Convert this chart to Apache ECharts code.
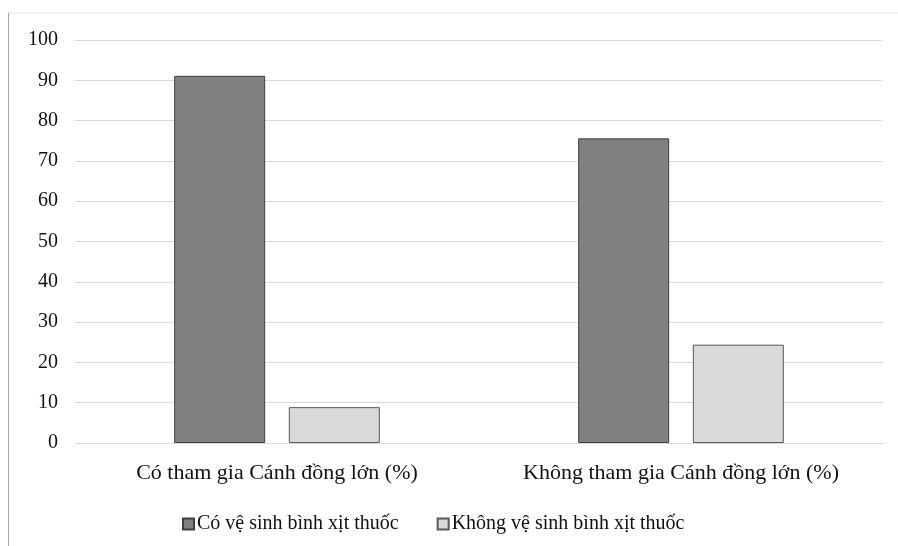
<!DOCTYPE html>
<html>
<head>
<meta charset="utf-8">
<script src="https://cdn.jsdelivr.net/npm/echarts@6/dist/echarts.min.js"></script>
<style>
  html, body { margin: 0; padding: 0; background: #fff; }
  #chart { width: 898px; height: 546px; }
</style>
</head>
<body>
<div id="chart"></div>
<script>
var categories = ["Có tham gia Cánh đồng lớn (%)", "Không tham gia Cánh đồng lớn (%)"];
var seriesNames = ["Có vệ sinh bình xịt thuốc", "Không vệ sinh bình xịt thuốc"];
var coVeSinh = [91.1, 75.6];
var khongVeSinh = [8.9, 24.4];

var font = "Liberation Serif";
var myChart = echarts.init(document.getElementById("chart"));

var option = {
  animation: false,
  graphic: [
    { type: "line", shape: { x1: 8, y1: 13, x2: 898, y2: 13 }, style: { stroke: "#e4e4e4", lineWidth: 1 } },
    { type: "line", shape: { x1: 8.5, y1: 13, x2: 8.5, y2: 546 }, style: { stroke: "#a6a6a6", lineWidth: 1 } }
  ],
  legend: {
    top: 509,
    left: 177,
    itemWidth: 11,
    itemHeight: 11,
    itemGap: 38,
    icon: "rect",
    textStyle: { fontFamily: font, fontSize: 20, color: "#111", padding: [0, 0, 0, -2] },
    data: seriesNames
  },
  grid: { left: 75, right: 15, top: 40, bottom: 103 },
  xAxis: {
    type: "category",
    data: categories,
    axisLine: { lineStyle: { color: "#d9d9d9", width: 1 } },
    axisTick: { show: false },
    axisLabel: { interval: 0, fontFamily: font, fontSize: 22, color: "#111", margin: 19 }
  },
  yAxis: {
    type: "value",
    min: 0,
    max: 100,
    interval: 10,
    axisLine: { show: false },
    axisTick: { show: false },
    splitLine: { lineStyle: { color: "#d9d9d9", width: 1 } },
    axisLabel: { fontFamily: font, fontSize: 20, color: "#111", margin: 17 }
  },
  series: [
    {
      name: seriesNames[0],
      type: "bar",
      data: coVeSinh,
      barWidth: 91,
      barGap: "26%",
      itemStyle: { color: "#808080", borderColor: "#404040", borderWidth: 1 }
    },
    {
      name: seriesNames[1],
      type: "bar",
      data: khongVeSinh,
      barWidth: 91,
      itemStyle: { color: "#d9d9d9", borderColor: "#595959", borderWidth: 1 }
    }
  ]
};

myChart.setOption(option);
</script>
</body>
</html>
